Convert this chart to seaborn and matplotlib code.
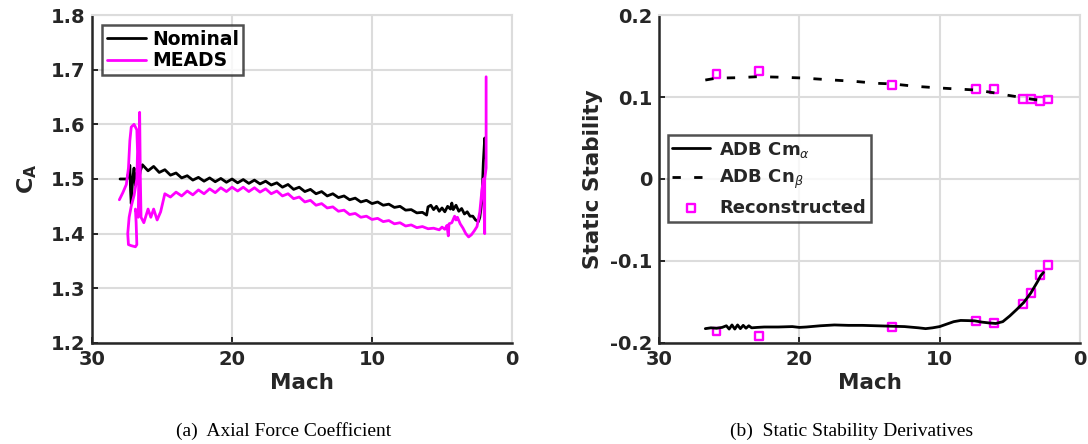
import matplotlib
matplotlib.use('Agg')
import matplotlib.pyplot as plt
import seaborn as sns
import pandas as pd

# ---------------- data ----------------
# (a) Axial force coefficient, Nominal
nom_mach = [28.0, 27.5, 27.4, 27.3, 27.25, 27.2, 27.1, 27.0, 26.9, 26.8, 26.7, 26.55,
            26.4, 26.0, 25.6, 25.2, 24.8, 24.4, 24.0, 23.6, 23.2, 22.8, 22.4, 22.0,
            21.6, 21.2, 20.8, 20.4, 20.0, 19.6, 19.2, 18.8, 18.4, 18.0, 17.6, 17.2,
            16.8, 16.4, 16.0, 15.6, 15.2, 14.8, 14.4, 14.0, 13.6, 13.2, 12.8, 12.4,
            12.0, 11.6, 11.2, 10.8, 10.4, 10.0, 9.6, 9.2, 8.8, 8.4, 8.0, 7.6, 7.2,
            6.8, 6.4, 6.1, 6.0, 5.8, 5.6, 5.4, 5.2, 5.0, 4.8, 4.6, 4.4, 4.3, 4.2,
            4.0, 3.8, 3.6, 3.4, 3.2, 3.0, 2.8, 2.6, 2.4, 2.3, 2.15, 2.05, 1.95, 1.93]
nom_ca = [1.500, 1.500, 1.510, 1.525, 1.480, 1.455, 1.500, 1.520, 1.488, 1.510, 1.492, 1.515,
          1.526, 1.515, 1.523, 1.512, 1.517, 1.507, 1.511, 1.502, 1.506, 1.498, 1.503, 1.496,
          1.502, 1.495, 1.501, 1.494, 1.500, 1.493, 1.499, 1.492, 1.498, 1.491, 1.496, 1.489,
          1.493, 1.485, 1.490, 1.481, 1.485, 1.477, 1.481, 1.473, 1.477, 1.469, 1.473, 1.466,
          1.469, 1.462, 1.465, 1.458, 1.461, 1.455, 1.458, 1.452, 1.454, 1.448, 1.450, 1.443, 1.444,
          1.438, 1.439, 1.434, 1.449, 1.452, 1.444, 1.450, 1.441, 1.447, 1.440, 1.450, 1.445, 1.456, 1.444,
          1.452, 1.441, 1.446, 1.436, 1.440, 1.432, 1.432, 1.425, 1.422, 1.430, 1.460, 1.530, 1.575, 1.540]

# (a) Axial force coefficient, MEADS
meads_mach = [28.05, 27.8, 27.55, 27.4, 27.3, 27.2, 27.0, 26.8, 26.75, 26.8, 27.0, 27.2,
              27.35, 27.45, 27.4, 27.2, 26.9, 26.8, 26.85, 26.9, 26.7, 26.6, 26.55, 26.5,
              26.3, 26.0, 25.8, 25.6, 25.35, 25.1, 24.8, 24.4, 24.0, 23.6, 23.2, 22.8,
              22.4, 22.0, 21.6, 21.2, 20.8, 20.4, 20.0, 19.6, 19.2, 18.8, 18.4, 18.0,
              17.6, 17.2, 16.8, 16.4, 16.0, 15.6, 15.2, 14.8, 14.4, 14.0, 13.6, 13.2,
              12.8, 12.4, 12.0, 11.6, 11.2, 10.8, 10.4, 10.0, 9.6, 9.2, 8.8, 8.4, 8.0,
              7.6, 7.2, 6.8, 6.4, 6.0, 5.6, 5.2, 5.0, 4.8, 4.65, 4.55, 4.5, 4.3, 4.1,
              4.0, 3.9, 3.7, 3.5, 3.3, 3.1, 2.9, 2.7, 2.5, 2.3, 2.15, 2.05, 1.95, 1.95,
              1.85, 1.85]
meads_ca = [1.462, 1.475, 1.490, 1.520, 1.570, 1.595, 1.600, 1.590, 1.550, 1.500, 1.470, 1.450,
            1.430, 1.400, 1.380, 1.378, 1.376, 1.380, 1.420, 1.445, 1.430, 1.622, 1.500, 1.430,
            1.420, 1.445, 1.430, 1.445, 1.425, 1.440, 1.473, 1.467, 1.476, 1.469, 1.478, 1.471,
            1.480, 1.473, 1.482, 1.475, 1.484, 1.477, 1.485, 1.478, 1.485, 1.477, 1.484, 1.476,
            1.482, 1.473, 1.478, 1.469, 1.473, 1.464, 1.467, 1.458, 1.461, 1.452, 1.455, 1.447,
            1.449, 1.441, 1.443, 1.435, 1.437, 1.430, 1.432, 1.426, 1.428, 1.422, 1.424, 1.418, 1.420,
            1.414, 1.416, 1.411, 1.413, 1.409, 1.410, 1.407, 1.412, 1.408, 1.415, 1.396, 1.418, 1.420, 1.432,
            1.425, 1.430, 1.418, 1.410, 1.400, 1.394, 1.398, 1.405, 1.413, 1.440, 1.480, 1.500, 1.400, 1.500,
            1.520, 1.687]

# (b) Static stability derivatives
cma_mach = [26.7, 26.3, 25.9, 25.5, 25.2, 25.0, 24.8, 24.6, 24.4, 24.2, 24.0, 23.8, 23.6,
            23.4, 23.0, 22.5, 21.5, 20.5, 20.0, 19.5, 18.5, 17.5, 16.5, 15.5, 14.5, 13.5,
            12.5, 11.5, 11.0, 10.5, 10.0, 9.5, 9.0, 8.5, 8.0, 7.5, 7.0, 6.5, 6.0, 5.5,
            5.0, 4.5, 4.0, 3.5, 3.0, 2.8, 2.6]
cma_val = [-0.1825, -0.1815, -0.182, -0.181, -0.179, -0.183, -0.178, -0.183, -0.178, -0.1825,
           -0.1785, -0.182, -0.179, -0.1815, -0.181, -0.1805, -0.1805, -0.180, -0.181, -0.1805,
           -0.179, -0.178, -0.1785, -0.1785, -0.179, -0.1795, -0.180, -0.1815, -0.1825, -0.1815,
           -0.180, -0.177, -0.174, -0.1725, -0.1727, -0.173, -0.1745, -0.1755, -0.1762, -0.174,
           -0.167, -0.159, -0.1505, -0.139, -0.1245, -0.118, -0.114]

cnb_mach = [26.7, 25.9, 24.5, 22.9, 21.5, 19.8, 17.6, 16.0, 14.5, 13.4, 11.7, 10.0, 8.8,
            7.4, 6.0, 5.1, 4.0, 3.5, 2.85, 2.5]
cnb_val = [0.1207, 0.123, 0.1235, 0.1248, 0.1242, 0.1232, 0.1207, 0.119, 0.1167, 0.116,
           0.113, 0.111, 0.1098, 0.1085, 0.1048, 0.102, 0.099, 0.0975, 0.096, 0.0965]

rec_mach = [25.9, 22.9, 13.4, 7.43, 6.1, 4.04, 3.49, 2.85, 2.26]
rec_cnb = [0.128, 0.132, 0.115, 0.110, 0.110, 0.098, 0.098, 0.095, 0.097]
rec_cma = [-0.186, -0.191, -0.180, -0.173, -0.176, -0.152, -0.139, -0.117, -0.105]

x_ticks = [30, 20, 10, 0]
ca_ticks = [1.2, 1.3, 1.4, 1.5, 1.6, 1.7, 1.8]
ca_ticklabels = ['1.2', '1.3', '1.4', '1.5', '1.6', '1.7', '1.8']
ss_ticks = [-0.2, -0.1, 0.0, 0.1, 0.2]
ss_ticklabels = ['-0.2', '-0.1', '0', '0.1', '0.2']

# ---------------- style ----------------
sns.set_theme(style='whitegrid')
plt.rcParams['font.family'] = ['DejaVu Sans']
plt.rcParams['axes.unicode_minus'] = False
plt.rcParams['mathtext.fontset'] = 'dejavusans'

DARK = '#262626'
GRID = '#dcdcdc'
MAG = '#ff00ff'

fig = plt.figure(figsize=(10.88, 4.44), dpi=100)
fig.patch.set_facecolor('white')
ax1 = fig.add_axes([0.0846, 0.2275, 0.386, 0.7387])
ax2 = fig.add_axes([0.6057, 0.2275, 0.3869, 0.7387])


def style(ax, yticks, yticklabels, ylim):
    ax.set_facecolor('white')
    ax.set_xlim(30, 0)
    ax.set_ylim(*ylim)
    ax.set_xticks(x_ticks)
    ax.set_xticklabels([str(t) for t in x_ticks], fontweight='bold')
    ax.set_yticks(yticks)
    ax.set_yticklabels(yticklabels, fontweight='bold')
    ax.grid(True, color=GRID, lw=1.5)
    ax.set_axisbelow(True)
    for s in ['left', 'bottom']:
        ax.spines[s].set_color(DARK)
        ax.spines[s].set_linewidth(1.8)
    for s in ['top', 'right']:
        ax.spines[s].set_color(GRID)
        ax.spines[s].set_linewidth(1.5)
    ax.tick_params(axis='both', which='major', direction='in', length=4, width=1.4,
                   colors=DARK, labelsize=14, pad=5, left=True, bottom=True,
                   top=False, right=False)


# (a)
sns.lineplot(x=nom_mach, y=nom_ca, sort=False, estimator=None, color='black', lw=2.0,
             label='Nominal', ax=ax1)
sns.lineplot(x=meads_mach, y=meads_ca, sort=False, estimator=None, color=MAG, lw=2.0,
             label='MEADS', ax=ax1)
style(ax1, ca_ticks, ca_ticklabels, (1.2, 1.8))
ax1.set_xlabel('Mach', fontsize=15.5, fontweight='bold', color=DARK, labelpad=3)
ax1.set_ylabel(r'$\mathbf{C_A}$', fontsize=16, color=DARK, labelpad=8)
leg1 = ax1.legend(loc='upper left', bbox_to_anchor=(0.024, 0.97), borderaxespad=0,
                  prop={'weight': 'bold', 'size': 13.5}, frameon=True, fancybox=False,
                  handlelength=2.1, handletextpad=0.3, labelspacing=0.15, borderpad=0.25)
leg1.get_frame().set_edgecolor(DARK)
leg1.get_frame().set_linewidth(1.8)
for t in leg1.get_texts():
    t.set_color('black')

# (b)
sns.lineplot(x=cma_mach, y=cma_val, sort=False, estimator=None, color='black', lw=2.0,
             label=r'ADB Cm$_\alpha$', ax=ax2)
sns.lineplot(x=cnb_mach, y=cnb_val, sort=False, estimator=None, color='black', lw=2.0,
             linestyle=(0, (3.0, 4.8)), label=r'ADB Cn$_\beta$', ax=ax2)
sns.scatterplot(x=rec_mach + rec_mach, y=rec_cnb + rec_cma, marker='s', s=32,
                facecolor='none', edgecolor=MAG, linewidth=1.7, label='Reconstructed',
                ax=ax2)
style(ax2, ss_ticks, ss_ticklabels, (-0.2, 0.2))
ax2.set_xlabel('Mach', fontsize=15.5, fontweight='bold', color=DARK, labelpad=3)
ax2.set_ylabel('Static Stability', fontsize=15.5, fontweight='bold', color=DARK, labelpad=5)
leg2 = ax2.legend(loc='upper left', bbox_to_anchor=(0.021, 0.634), borderaxespad=0,
                  prop={'weight': 'bold', 'size': 13}, frameon=True, fancybox=False,
                  handlelength=2.1, handletextpad=0.5, labelspacing=0.45, borderpad=0.25)
leg2.get_frame().set_edgecolor(DARK)
leg2.get_frame().set_linewidth(1.8)

# captions
fig.text(284 / 1088, 0.029, '(a)  Axial Force Coefficient', ha='center', va='center',
         fontsize=14, family='Liberation Serif', color='black')
fig.text(852 / 1088, 0.029, '(b)  Static Stability Derivatives', ha='center', va='center',
         fontsize=14, family='Liberation Serif', color='black')

fig.savefig('out.png', dpi=100, facecolor='white')
